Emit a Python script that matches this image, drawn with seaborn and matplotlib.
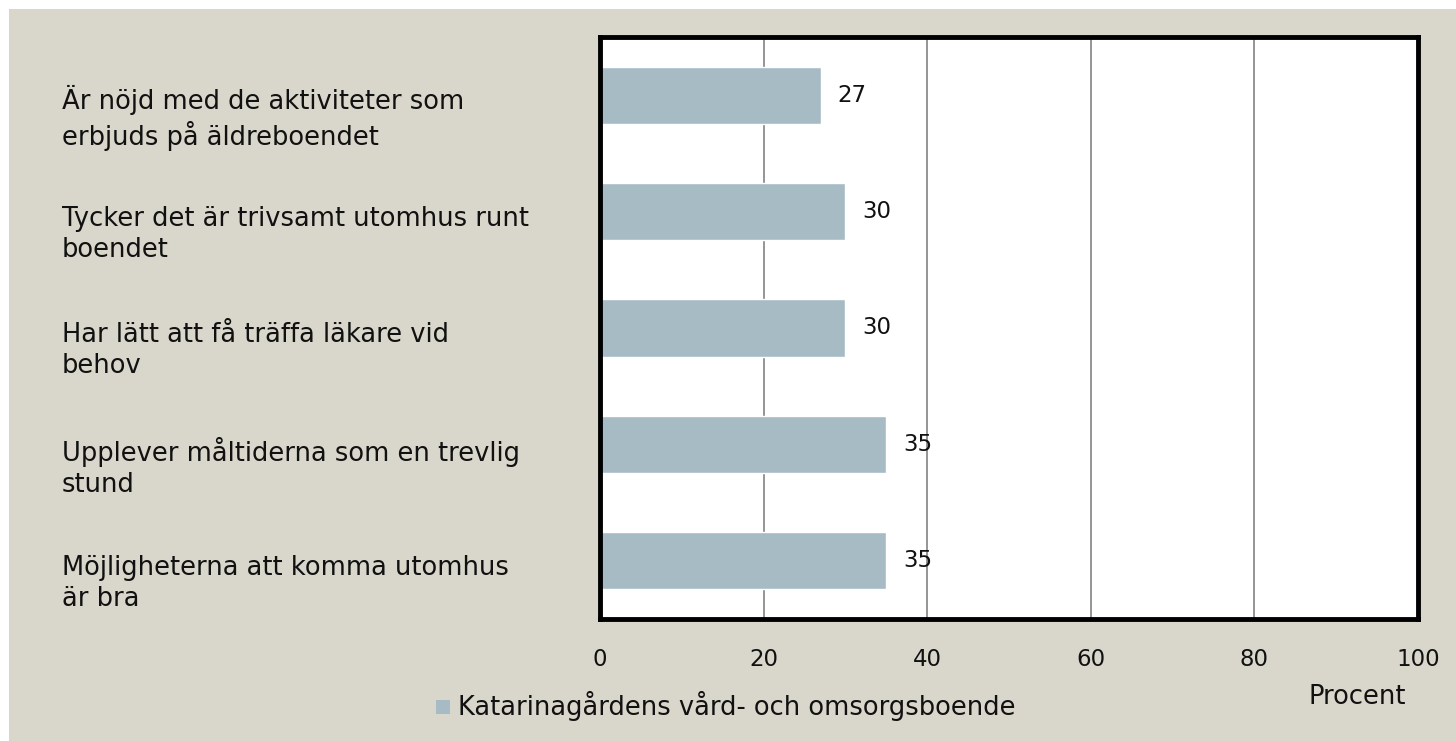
import matplotlib
matplotlib.use("Agg")
import matplotlib.pyplot as plt
import seaborn as sns
import pandas as pd
from matplotlib.patches import Rectangle

categories = [
    "Är nöjd med de aktiviteter som\nerbjuds på äldreboendet",
    "Tycker det är trivsamt utomhus runt\nboendet",
    "Har lätt att få träffa läkare vid\nbehov",
    "Upplever måltiderna som en trevlig\nstund",
    "Möjligheterna att komma utomhus\när bra",
]
values = [27, 30, 30, 35, 35]
xticks = [0, 20, 40, 60, 80, 100]
series_name = "Katarinagårdens vård- och omsorgsboende"
xlabel = "Procent"

sns.set_theme(style="white")
FONT = ["DejaVu Sans"]
plt.rcParams["font.family"] = FONT

BG = "#d9d7cb"
BAR = "#a7bbc5"
W, H = 1456, 741
FS = 16.5      # numbers
FT = 18.5      # words

fig = plt.figure(figsize=(W / 100, H / 100), dpi=100, facecolor="white")
fig.patches.append(Rectangle((9 / W, 0), 1 - 9 / W, 1 - 9 / H, transform=fig.transFigure,
                             facecolor=BG, edgecolor="none", zorder=-10))

ax = fig.add_axes([600 / W, 1 - 619 / H, (1418 - 600) / W, (619 - 37) / H])
df = pd.DataFrame({"cat": categories, "val": values})
sns.barplot(data=df, x="val", y="cat", color=BAR, orient="h", width=0.49,
            saturation=1, ax=ax, zorder=3)
ax.set_facecolor("white")
ax.set_xlim(0, 100)
ax.set_ylim(4.5, -0.5)
ax.set_xticks(xticks)
ax.set_xticklabels([str(t) for t in xticks], fontsize=FS, color="#111111")
ax.tick_params(axis="x", length=0, pad=21)
ax.set_yticks([])
ax.set_xlabel("")
ax.set_ylabel("")
for t in xticks[1:-1]:
    ax.axvline(t, color="#8c8c8c", lw=1.3, zorder=1)
for s in ax.spines.values():
    s.set_visible(True)
    s.set_color("black")
    s.set_linewidth(3.5)
    s.set_zorder(10)

for i, v in enumerate(values):
    ax.annotate(str(v), (v, i), xytext=(12, 0), textcoords="offset points",
                va="center", ha="left", fontsize=FS, color="#111111", zorder=5)

# category labels on the left
for i, lab in enumerate(categories):
    y_disp = ax.transData.transform((0, i))[1]
    y_fig = y_disp / H - 23 / H
    fig.text(62 / W, y_fig, lab, ha="left", va="center", fontsize=FT,
             color="#111111", linespacing=1.25)

# legend
fig.patches.append(Rectangle((436 / W, 1 - 714 / H), 14 / W, 14 / H, transform=fig.transFigure,
                             facecolor=BAR, edgecolor="none"))
fig.text(458 / W, 1 - 706 / H, series_name, ha="left", va="center", fontsize=FT, color="#111111")
fig.text(1357 / W, 1 - 697 / H, xlabel, ha="center", va="center", fontsize=FT, color="#111111")

fig.savefig("out.png", dpi=100, facecolor="white")
